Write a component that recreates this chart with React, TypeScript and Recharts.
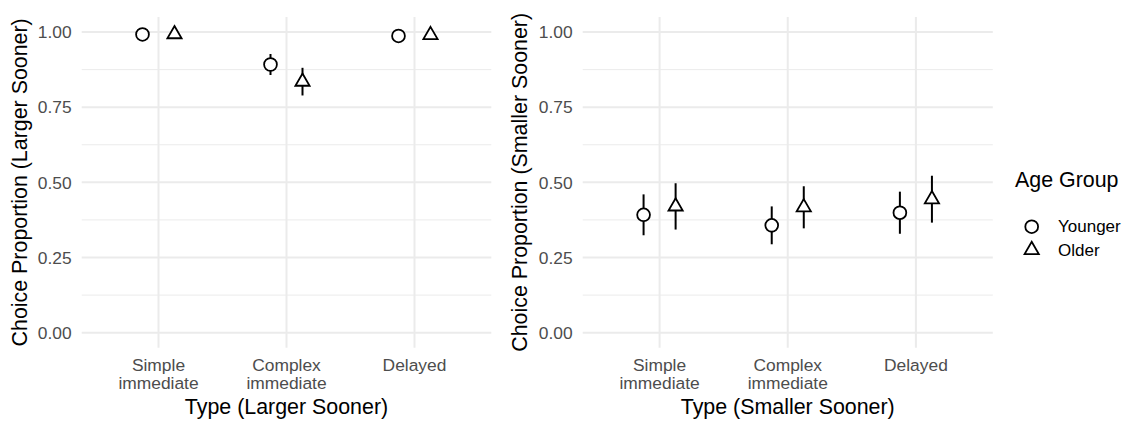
import {
  ScatterChart,
  Scatter,
  XAxis,
  YAxis,
  CartesianGrid,
  ErrorBar,
  Label,
} from "recharts";

// Category labels (line breaks split into tspans)
const categories = ["Simple\nimmediate", "Complex\nimmediate", "Delayed"];
const categoryPositions = [1, 2, 3];
const ageGroups = ["Younger", "Older"];

// Larger Sooner choice proportions with half-width of the interval
const largerYounger = [0.992, 0.892, 0.987];
const largerYoungerErr = [0.006, 0.035, 0.007];
const largerOlder = [0.993, 0.835, 0.99];
const largerOlderErr = [0.005, 0.046, 0.006];

// Smaller Sooner choice proportions with half-width of the interval
const smallerYounger = [0.392, 0.357, 0.399];
const smallerYoungerErr = [0.068, 0.063, 0.07];
const smallerOlder = [0.42, 0.417, 0.444];
const smallerOlderErr = [0.077, 0.07, 0.078];

const yTicks = [0, 0.25, 0.5, 0.75, 1];
const yMinor = [0.125, 0.375, 0.625, 0.875];

const FONT = '"Liberation Sans", Arial, Helvetica, sans-serif';
const GRID = "#EBEBEB";
const TICK_COLOR = "#4D4D4D";
const DODGE = 0.125;

interface Row {
  x: number;
  y: number;
  err: number;
}

const buildRows = (values: number[], errs: number[], offset: number): Row[] =>
  values.map((v, i) => ({ x: categoryPositions[i] + offset, y: v, err: errs[i] }));

// Hollow circle with white fill so the error bar stays hidden behind it
const CircleShape = (props: any) => {
  const { cx, cy } = props;
  if (cx == null || cy == null) return <g />;
  return <circle cx={cx} cy={cy} r={6.4} fill="#fff" stroke="#000" strokeWidth={1.8} />;
};

// Open triangle centred on its circumcentre
const TriangleShape = (props: any) => {
  const { cx, cy } = props;
  if (cx == null || cy == null) return <g />;
  const r = 8.2;
  const dx = r * 0.866;
  const pts = `${cx},${cy - r} ${cx + dx},${cy + r / 2} ${cx - dx},${cy + r / 2}`;
  return <polygon points={pts} fill="#fff" stroke="#000" strokeWidth={1.8} strokeLinejoin="miter" />;
};

const NoShape = () => <g />;

const CategoryTick = (props: any) => {
  const { x, y, payload } = props;
  const idx = categoryPositions.indexOf(Math.round(payload.value));
  const label = categories[idx] ?? "";
  const lines = label.split("\n");
  return (
    <text x={x} y={y} textAnchor="middle" fill={TICK_COLOR} fontSize={17.4} fontFamily={FONT}>
      {lines.map((line, i) => (
        <tspan key={i} x={x} dy={i === 0 ? 23.3 : 17.8}>
          {line}
        </tspan>
      ))}
    </text>
  );
};

interface PanelProps {
  width: number;
  marginRight: number;
  yAxisWidth: number;
  xTitle: string;
  yTitle: string;
  younger: number[];
  youngerErr: number[];
  older: number[];
  olderErr: number[];
}

const Panel = ({
  width,
  marginRight,
  yAxisWidth,
  xTitle,
  yTitle,
  younger,
  youngerErr,
  older,
  olderErr,
}: PanelProps) => {
  const youngerRows = buildRows(younger, youngerErr, -DODGE);
  const olderRows = buildRows(older, olderErr, DODGE);

  const renderYTitle = (p: any) => {
    const vb = p.viewBox || {};
    const cy = vb.height ? vb.y + vb.height / 2 : 182.3;
    return (
      <text
        x={27}
        y={cy}
        transform={`rotate(-90, 27, ${cy})`}
        textAnchor="middle"
        fontSize={21.4}
        fontFamily={FONT}
        fill="#000"
      >
        {yTitle}
      </text>
    );
  };

  const renderXTitle = (p: any) => {
    const vb = p.viewBox || {};
    const cx = vb.width ? vb.x + vb.width / 2 : width / 2;
    return (
      <text x={cx} y={414} textAnchor="middle" fontSize={21.4} fontFamily={FONT} fill="#000">
        {xTitle}
      </text>
    );
  };

  return (
    <ScatterChart
      width={width}
      height={421}
      margin={{ top: 17, right: marginRight, bottom: 0, left: 0 }}
      style={{ fontFamily: FONT }}
    >
      <CartesianGrid
        vertical={false}
        horizontalValues={yMinor}
        stroke={GRID}
        strokeWidth={1}
      />
      <CartesianGrid
        horizontalValues={yTicks}
        verticalValues={categoryPositions}
        stroke={GRID}
        strokeWidth={2}
      />
      <XAxis
        type="number"
        dataKey="x"
        domain={[0.4, 3.6]}
        ticks={categoryPositions}
        interval={0}
        allowDataOverflow
        height={73.3}
        tickLine={false}
        axisLine={false}
        tickSize={0}
        tickMargin={0}
        tick={<CategoryTick />}
      >
        <Label content={renderXTitle} />
      </XAxis>
      <YAxis
        type="number"
        dataKey="y"
        domain={[-0.05, 1.05]}
        ticks={yTicks}
        interval={0}
        allowDataOverflow
        width={yAxisWidth}
        tickLine={false}
        axisLine={false}
        tickSize={0}
        tickMargin={10}
        tickFormatter={(v: number) => v.toFixed(2)}
        tick={{ fill: TICK_COLOR, fontSize: 17.4, fontFamily: FONT }}
      >
        <Label content={renderYTitle} />
      </YAxis>

      {/* error bars first so the markers sit on top */}
      <Scatter data={youngerRows} dataKey="y" shape={NoShape} isAnimationActive={false}>
        <ErrorBar dataKey="err" direction="y" width={0} stroke="#000" strokeWidth={2} isAnimationActive={false} />
      </Scatter>
      <Scatter data={olderRows} dataKey="y" shape={NoShape} isAnimationActive={false}>
        <ErrorBar dataKey="err" direction="y" width={0} stroke="#000" strokeWidth={2} isAnimationActive={false} />
      </Scatter>
      <Scatter name={ageGroups[0]} data={youngerRows} dataKey="y" shape={CircleShape} isAnimationActive={false} />
      <Scatter name={ageGroups[1]} data={olderRows} dataKey="y" shape={TriangleShape} isAnimationActive={false} />
    </ScatterChart>
  );
};

const AgeLegend = () => (
  <svg width={139} height={120} style={{ position: "absolute", left: 990, top: 160 }}>
    <text x={25} y={26.7} fontSize={21.4} fontFamily={FONT} fill="#000">
      Age Group
    </text>
    <CircleShape cx={41.7} cy={66.7} />
    <text x={68} y={72.3} fontSize={17} fontFamily={FONT} fill="#000">
      {ageGroups[0]}
    </text>
    <TriangleShape cx={41.7} cy={90} />
    <text x={68} y={96} fontSize={17} fontFamily={FONT} fill="#000">
      {ageGroups[1]}
    </text>
  </svg>
);

export default function App() {
  return (
    <div
      style={{
        position: "absolute",
        left: 0,
        top: 0,
        width: 1129,
        height: 421,
        background: "#fff",
      }}
    >
      <div style={{ position: "absolute", left: 0, top: 0 }}>
        <Panel
          width={500}
          marginRight={8.7}
          yAxisWidth={81.7}
          xTitle="Type (Larger Sooner)"
          yTitle="Choice Proportion (Larger Sooner)"
          younger={largerYounger}
          youngerErr={largerYoungerErr}
          older={largerOlder}
          olderErr={largerOlderErr}
        />
      </div>
      <div style={{ position: "absolute", left: 500, top: 0 }}>
        <Panel
          width={629}
          marginRight={136.2}
          yAxisWidth={82.7}
          xTitle="Type (Smaller Sooner)"
          yTitle="Choice Proportion (Smaller Sooner)"
          younger={smallerYounger}
          youngerErr={smallerYoungerErr}
          older={smallerOlder}
          olderErr={smallerOlderErr}
        />
      </div>
      <AgeLegend />
    </div>
  );
}
